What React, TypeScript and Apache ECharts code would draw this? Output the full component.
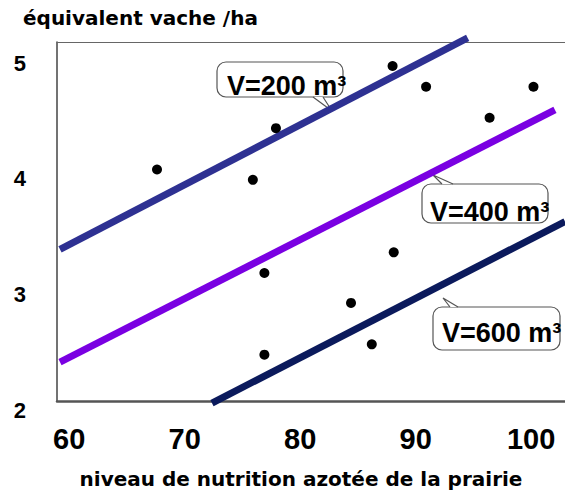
import React, { useEffect, useRef } from "react";
import * as echarts from "echarts";

// Axis ticks
const xTickValues = [60, 70, 80, 90, 100];
const yTickValues = [2, 3, 4, 5];

// Axis extents (frame of the plot)
const xMin = 58.94;
const xMax = 102.93;
const yMin = 2.067;
const yMax = 5.189;

// Regression lines (two end points each)
const lineV200 = [[59.2, 3.385], [94.5, 5.224]];
const lineV400 = [[59.2, 2.405], [102.06, 4.599]];
const lineV600 = [[72.36, 2.049], [102.93, 3.628]];

// Observed points
const pointX = [67.6, 75.9, 77.9, 88.0, 90.9, 96.4, 100.2, 76.9, 88.1, 84.4, 86.2, 76.9];
const pointY = [4.08, 3.99, 4.44, 4.98, 4.80, 4.53, 4.80, 3.18, 3.36, 2.92, 2.56, 2.47];

// Callout labels
const calloutLabels = ["V=200 m³", "V=400 m³", "V=600 m³"];

const titleY = "équivalent vache /ha";
const titleX = "niveau de nutrition azotée de la prairie";

const LINE_COLORS = ["#2e3192", "#7a00e2", "#0b1a5c"];

function callout(
  label: string,
  box: { x: number; y: number; w: number; h: number },
  tail: number[][],
  text: { x: number; y: number }
) {
  return {
    type: "group",
    z: 100,
    children: [
      {
        type: "rect",
        shape: { x: box.x, y: box.y, width: box.w, height: box.h, r: 9 },
        style: { fill: "#fff", stroke: "#555", lineWidth: 1.2 },
      },
      {
        type: "polygon",
        shape: { points: tail },
        style: { fill: "#fff", stroke: "none" },
      },
      {
        type: "polyline",
        shape: { points: tail },
        style: { fill: "none", stroke: "#555", lineWidth: 1.2 },
      },
      {
        type: "text",
        style: {
          text: label,
          x: text.x,
          y: text.y,
          verticalAlign: "middle",
          align: "left",
          fill: "#000",
          font: 'bold 27px "Liberation Sans", Arial, sans-serif',
        },
      },
    ],
  };
}

export default function App() {
  const ref = useRef<HTMLDivElement>(null);

  useEffect(() => {
    if (!ref.current) return;
    const chart = echarts.init(ref.current, undefined, { renderer: "svg" });

    const lineSeries = [lineV200, lineV400, lineV600].map((d, i) => ({
      type: "line",
      data: d,
      xAxisIndex: 0,
      yAxisIndex: 0,
      symbol: "none",
      clip: false,
      lineStyle: { color: LINE_COLORS[i], width: 7, cap: "butt" },
      z: 3,
    }));

    const points = pointX.map((x, i) => [x, pointY[i]]);

    chart.setOption({
      animation: false,
      backgroundColor: "#fff",
      grid: [
        { left: 57, top: 42, right: 0, bottom: 93 },
        { left: 57, top: 63, right: 0, bottom: 84 },
      ],
      xAxis: [
        {
          type: "value",
          gridIndex: 0,
          min: xMin,
          max: xMax,
          axisLine: { show: true, onZero: false, lineStyle: { color: "#555", width: 2.5 } },
          axisTick: { show: false },
          splitLine: { show: false },
          axisLabel: {
            customValues: xTickValues,
            margin: 23,
            color: "#000",
            fontSize: 29,
            fontWeight: "bold",
            fontFamily: '"Liberation Sans", Arial, sans-serif',
            formatter: (v: number) => String(Math.round(v)),
          },
        },
        {
          type: "value",
          gridIndex: 0,
          position: "top",
          min: xMin,
          max: xMax,
          axisLine: { show: true, onZero: false, lineStyle: { color: "#666", width: 1 } },
          axisTick: { show: false },
          splitLine: { show: false },
          axisLabel: { show: false },
        },
        {
          type: "value",
          gridIndex: 1,
          show: false,
          min: 0,
          max: 1,
        },
      ],
      yAxis: [
        {
          type: "value",
          gridIndex: 0,
          min: yMin,
          max: yMax,
          axisLine: { show: true, onZero: false, lineStyle: { color: "#444", width: 1.5 } },
          axisTick: { show: false },
          splitLine: { show: false },
          axisLabel: { show: false },
        },
        {
          type: "value",
          gridIndex: 1,
          min: yTickValues[0],
          max: yTickValues[yTickValues.length - 1],
          interval: 1,
          axisLine: { show: false },
          axisTick: { show: false },
          splitLine: { show: false },
          axisLabel: {
            margin: 31,
            color: "#000",
            fontSize: 22,
            fontWeight: "bold",
            fontFamily: '"Liberation Sans", Arial, sans-serif',
          },
        },
      ],
      series: [
        ...lineSeries,
        {
          type: "scatter",
          xAxisIndex: 0,
          yAxisIndex: 0,
          data: points,
          symbol: "circle",
          symbolSize: 10,
          itemStyle: { color: "#000", opacity: 1 },
          z: 4,
        },
      ],
      graphic: [
        {
          type: "text",
          style: {
            text: titleY,
            x: 23,
            y: 18,
            verticalAlign: "middle",
            align: "left",
            fill: "#000",
            font: 'bold 20px "DejaVu Sans", sans-serif',
          },
        },
        {
          type: "text",
          style: {
            text: titleX,
            x: 301,
            y: 479,
            verticalAlign: "middle",
            align: "center",
            fill: "#000",
            font: 'bold 20px "DejaVu Sans", sans-serif',
          },
        },
        callout(
          calloutLabels[0],
          { x: 217, y: 62, w: 126, h: 35 },
          [[313, 97], [332, 111], [323, 97]],
          { x: 227, y: 86 }
        ),
        callout(
          calloutLabels[1],
          { x: 422, y: 184, w: 126, h: 39 },
          [[442, 184], [433, 175], [453, 184]],
          { x: 430, y: 212 }
        ),
        callout(
          calloutLabels[2],
          { x: 433, y: 307, w: 127, h: 43 },
          [[450, 307], [443, 298], [458, 307]],
          { x: 442, y: 333 }
        ),
      ],
    });

    return () => chart.dispose();
  }, []);

  return (
    <div
      ref={ref}
      style={{ position: "fixed", left: 0, top: 0, width: 565, height: 494 }}
    />
  );
}
